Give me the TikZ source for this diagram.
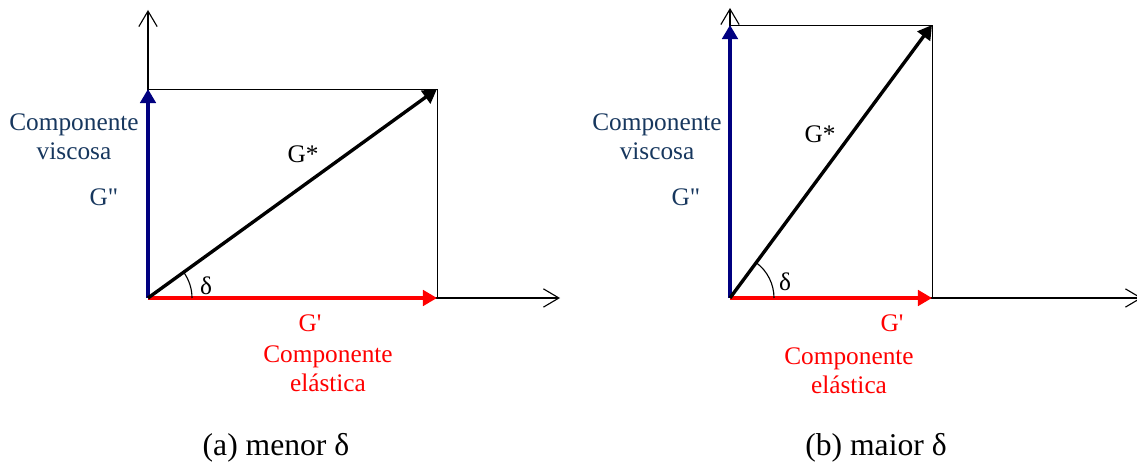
\documentclass[tikz,border=0pt]{standalone}
\usepackage{fontspec}
\setmainfont{Liberation Serif}
\usepackage{tikz}
\usetikzlibrary{arrows.meta,positioning,calc}
\definecolor{vblue}{HTML}{000080}
\definecolor{tblue}{HTML}{17375E}
\definecolor{ered}{HTML}{FF0000}
\tikzset{
  axisline/.style={line width=0.8pt,-{Straight Barb[length=11pt,width=13pt]}},
  boxline/.style={line width=0.7pt},
  vec/.style={line width=2.4pt,-{Triangle[length=10pt,width=11pt]}},
  lbl/.style={font=\fontsize{18}{20.5}\selectfont, align=center, inner sep=0pt},
  capt/.style={font=\fontsize{22.5}{26}\selectfont, inner sep=0pt}
}

\begin{document}
\begin{tikzpicture}[x=0.025cm,y=0.025cm]
\useasboundingbox (0,0) rectangle (1137,466);
% (a) menor delta
\coordinate (oa) at (148,168);
\coordinate (xa) at (560,168);
\coordinate (ya) at (148,456);
\coordinate (gpa) at (437,168);
\coordinate (gppa) at (148,377);
\coordinate (gsa) at (437,377);
\draw[axisline] (oa) -- (xa);
\draw[axisline] (oa) -- (ya);
\draw[boxline] (gppa) -- (gsa) -- (gpa);
\draw[vec, vblue] (oa) -- (gppa);
\draw[vec, ered] (oa) -- (gpa);
\draw[vec, black] (oa) -- (gsa);
\draw[line width=0.8pt] (oa) ++(44,0) arc[start angle=0, end angle=36, radius=44];
\node[lbl, text=tblue] (visca) at (74,329) {Componente\\viscosa};
\node[lbl, text=tblue] (gppla) at (104,269) {G\textquotedbl};
\node[lbl] (gsla) at (303,312) {G*};
\node[lbl] (dla) at (206,180) {δ};
\node[lbl, text=ered] (gpla) at (310,143) {G\textquotesingle};
\node[lbl, text=ered] (elaa) at (328,97) {Componente\\elástica};
\node[capt] (capa) at (276,18) {(a) menor δ};

% (b) maior delta
\coordinate (ob) at (730,168);
\coordinate (xb) at (1142,168);
\coordinate (yb) at (730,458);
\coordinate (gpb) at (932,168);
\coordinate (gppb) at (730,441);
\coordinate (gsb) at (932,441);
\draw[axisline] (ob) -- (xb);
\draw[axisline] (ob) -- (yb);
\draw[boxline] (gppb) -- (gsb) -- (gpb);
\draw[vec, vblue] (ob) -- (gppb);
\draw[vec, ered] (ob) -- (gpb);
\draw[vec, black] (ob) -- (gsb);
\draw[line width=0.8pt] (ob) ++(44,0) arc[start angle=0, end angle=53.4, radius=44];
\node[lbl, text=tblue] (viscb) at (657,329) {Componente\\viscosa};
\node[lbl, text=tblue] (gpplb) at (686,269) {G\textquotedbl};
\node[lbl] (gslb) at (820,332) {G*};
\node[lbl] (dlb) at (785,184) {δ};
\node[lbl, text=ered] (gplb) at (892,143) {G\textquotesingle};
\node[lbl, text=ered] (elab) at (849,95) {Componente\\elástica};
\node[capt] (capb) at (876,18) {(b) maior δ};
\end{tikzpicture}
\end{document}
